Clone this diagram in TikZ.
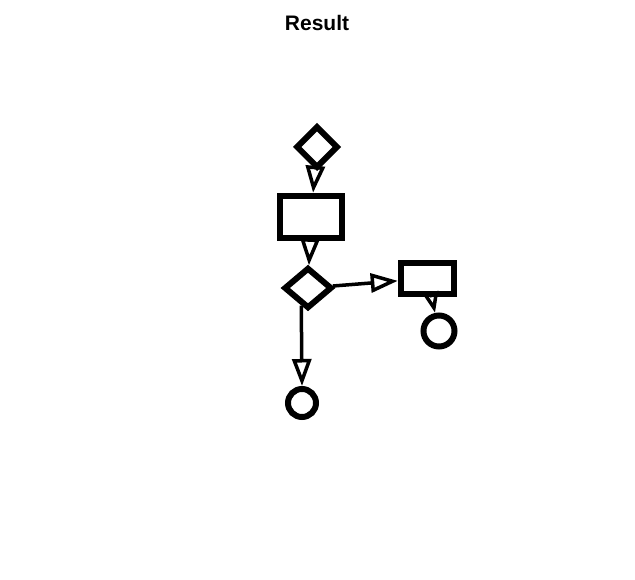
\documentclass[tikz,border=0pt]{standalone}
\usepackage{fontspec}
\setmainfont{Liberation Sans}
\usetikzlibrary{shapes.geometric,arrows.meta,calc}
\begin{document}
\begin{tikzpicture}[x=1pt,y=1pt,
  box/.style={draw,line width=6.5pt,rectangle,inner sep=0pt,fill=white},
  dia/.style={draw,line width=6pt,diamond,inner sep=0pt,fill=white},
  ring/.style={draw,line width=6pt,circle,inner sep=0pt,fill=white},
  flow/.style={line width=3.5pt,-{Triangle[open,length=27pt,width=19pt,line width=3.5pt]}},
  shortflow/.style={line width=3.5pt,-{Triangle[open,length=21pt,width=15pt,line width=3.5pt]}}]
\useasboundingbox (0,0) rectangle (635,579);
\node[font=\bfseries\fontsize{21}{24}\selectfont] (title) at (317,556) {Result};
% shapes
\node[dia,minimum width=42pt,minimum height=42pt] (d1) at (317,432) {};
\node[box,minimum width=62pt,minimum height=42pt] (r1) at (311,362) {};
\node[dia,minimum width=48pt,minimum height=41pt] (d2) at (308,291) {};
\node[box,minimum width=53pt,minimum height=31pt] (r2) at (427.5,300.5) {};
\node[ring,minimum size=31pt] (c2) at (439,248) {};
\node[ring,minimum size=28pt] (c3) at (302,176) {};
% connectors
\draw[flow] (d1) -- (r1);
\draw[flow] (r1) -- (d2);
\draw[flow] (d2) -- (r2);
\draw[shortflow] (r2) -- (c2);
\draw[flow] ($(d2.south)!0.25!(d2.west)$) -- (c3.north);
\end{tikzpicture}
\end{document}
